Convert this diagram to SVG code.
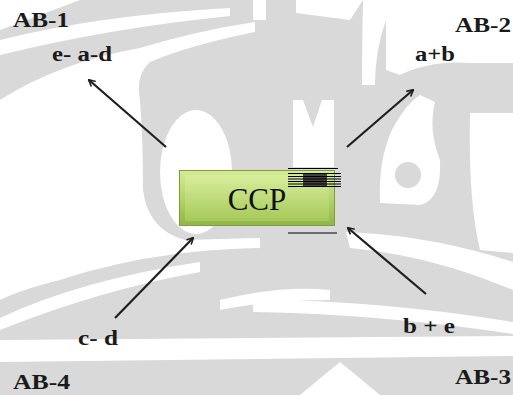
<svg xmlns="http://www.w3.org/2000/svg" width="513" height="395" viewBox="0 0 513 395">
<defs>
<style>
.lbl{font-family:'Liberation Serif','DejaVu Serif',serif;font-weight:700;fill:#1a1a1a}
.ab{font-size:22px}
.ex{font-size:20px}
.wm{fill:#ffffff}
.conn{stroke:#1e1e1e;stroke-width:2.2;fill:none;marker-end:url(#ah)}
.rule{stroke:#000;stroke-width:1.2}
</style>
<marker id="ah" viewBox="0 0 12 12" refX="10" refY="6" markerWidth="8" markerHeight="8" orient="auto" markerUnits="userSpaceOnUse">
<path d="M1,1 L11,6 L1,11" fill="none" stroke="#1e1e1e" stroke-width="2.4"/>
</marker>
<linearGradient id="gb" x1="0" y1="0" x2="0" y2="1">
<stop offset="0" stop-color="#d6ec96"/>
<stop offset="0.5" stop-color="#b4d46a"/>
<stop offset="1" stop-color="#8fb447"/>
</linearGradient>
<linearGradient id="gbi" x1="0" y1="0" x2="0" y2="1">
<stop offset="0" stop-color="#d8ee9c"/>
<stop offset="1" stop-color="#a6c95a"/>
</linearGradient>
</defs>
<g id="background">
<rect x="0" y="0" width="513" height="395" fill="#d9d9d9"/>
<path class="wm" d="M0,0 L80,0 Q40,15 0,30 Z"/>
<path class="wm" d="M0,40 Q100,15 230,8 L230,16 Q110,28 0,55 Z"/>
<path class="wm" d="M0,100 Q60,62 140,48 Q200,30 255,22 L255,32 Q190,45 150,62 Q135,75 140,100 Q143,140 143,190 Q148,230 185,240 L260,238 L260,248 Q150,250 60,280 Q20,290 0,300 Z"/>
<ellipse class="wm" cx="196" cy="172" rx="36" ry="62"/>
<path class="wm" d="M0,318 Q80,280 200,262 L200,272 Q100,290 0,330 Z"/>
<path class="wm" d="M220,300 Q280,285 330,290 L330,300 Q270,300 220,310 Z"/>
<path class="wm" d="M0,340 L513,336 L513,356 L0,362 Z"/>
<path class="wm" d="M300,395 L340,362 L380,395 Z"/>
<path class="wm" d="M253,0 L266,0 L266,20 L253,20 Z"/>
<path class="wm" d="M296,0 L363,0 L350,20 L296,13 Z"/>
<path class="wm" d="M363,0 L386,0 L386,20 Q375,50 375,85 L362,85 Q362,40 363,0 Z"/>
<path class="wm" d="M386,0 L513,0 L513,63 L470,63 Q430,60 400,75 L386,70 Z"/>
<path class="wm" d="M293,167 L293,100 L303,100 L313,127 L322,100 L334,100 L334,167 Z"/>
<path class="wm" d="M470,113 L513,113 L513,253 L480,250 Q468,200 470,113 Z"/>
<path class="wm" d="M380,203 Q378,160 392,130 Q405,105 420,95 L435,102 Q428,130 440,160 Q442,200 420,205 Z"/>
<circle cx="408" cy="175" r="13" fill="#d9d9d9"/>
<path class="wm" d="M346,232 Q430,235 513,262 L513,290 Q430,255 350,248 Z"/>
<path class="wm" d="M253,300 Q380,300 513,322 L513,334 Q380,314 253,312 Z"/>
</g>
<g id="connectors">
<line class="conn" x1="166" y1="147" x2="89" y2="80"/>
<line class="conn" x1="347" y1="147" x2="413" y2="90"/>
<line class="conn" x1="115" y1="318" x2="193" y2="238"/>
<line class="conn" x1="426" y1="294" x2="348" y2="228"/>
</g>
<g id="ccp">
<rect x="179" y="170" width="156" height="56" fill="url(#gb)"/>
<rect x="185" y="175" width="144" height="46" fill="url(#gbi)"/>
<rect x="179.5" y="170.5" width="155" height="55" fill="none" stroke="#7d9e3c" stroke-width="1"/>
<text x="257" y="210" text-anchor="middle" font-family="Liberation Serif, serif" font-size="31" fill="#111">CCP</text>
<rect x="303" y="173" width="24" height="13" fill="#444"/>
<line class="rule" x1="288" y1="168.5" x2="338" y2="168.5"/>
<line class="rule" x1="288" y1="173.5" x2="341" y2="173.5"/>
<line class="rule" x1="288" y1="176.5" x2="341" y2="176.5"/>
<line class="rule" x1="288" y1="179" x2="341" y2="179"/>
<line class="rule" x1="288" y1="181.5" x2="341" y2="181.5"/>
<line class="rule" x1="288" y1="184" x2="341" y2="184"/>
<line class="rule" x1="288" y1="186.5" x2="341" y2="186.5"/>
<line class="rule" x1="288" y1="233" x2="337" y2="233"/>
</g>
<g id="ab1"><text class="lbl ab" x="13" y="27" textLength="56" lengthAdjust="spacingAndGlyphs">AB-1</text><text class="lbl ex" x="52" y="61" textLength="60" lengthAdjust="spacingAndGlyphs">e- a-d</text></g>
<g id="ab2"><text class="lbl ab" x="455" y="32" textLength="56" lengthAdjust="spacingAndGlyphs">AB-2</text><text class="lbl ex" x="415" y="61" textLength="40" lengthAdjust="spacingAndGlyphs">a+b</text></g>
<g id="ab3"><text class="lbl ab" x="455" y="384" textLength="56" lengthAdjust="spacingAndGlyphs">AB-3</text><text class="lbl ex" x="403" y="333" textLength="52" lengthAdjust="spacingAndGlyphs">b + e</text></g>
<g id="ab4"><text class="lbl ab" x="13" y="389" textLength="57" lengthAdjust="spacingAndGlyphs">AB-4</text><text class="lbl ex" x="78" y="345" textLength="40" lengthAdjust="spacingAndGlyphs">c- d</text></g>
</svg>
